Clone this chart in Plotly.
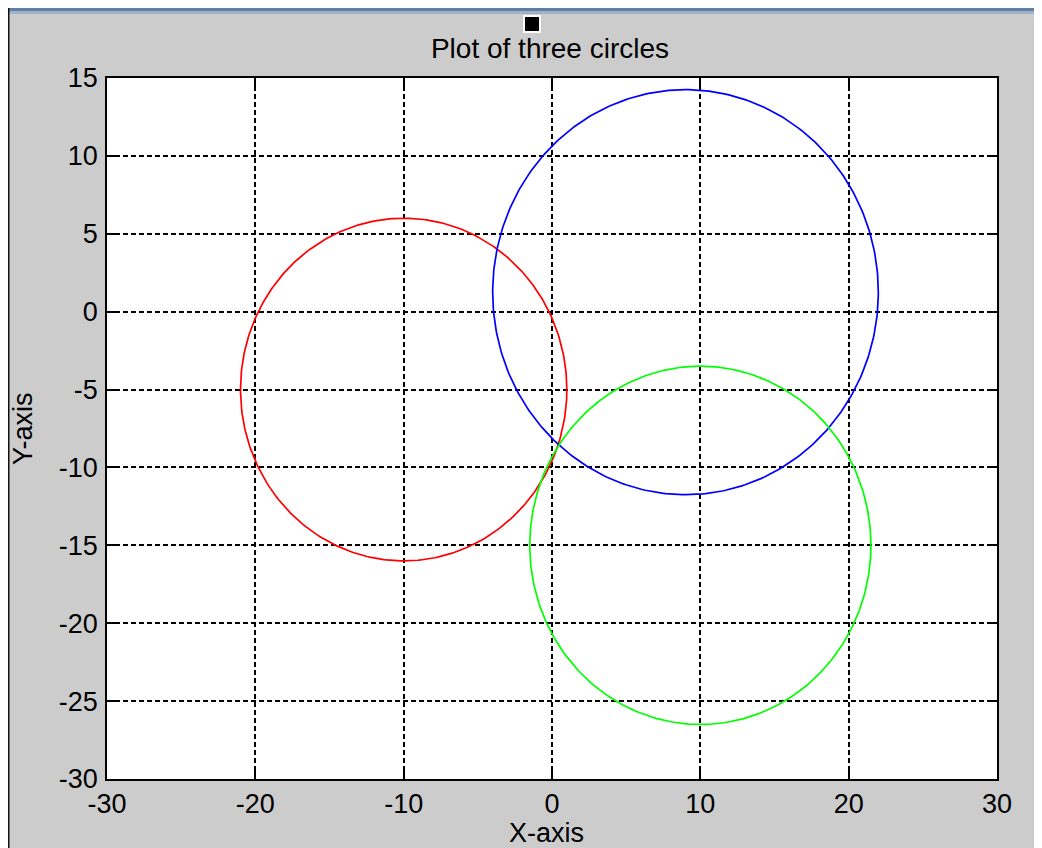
import numpy as np
import plotly.graph_objects as go

# Data: three circles (centre x, centre y, radius)
names = ["red circle", "blue circle", "green circle"]
center_x = [-10.0, 9.0, 10.0]
center_y = [-5.0, 1.25, -15.0]
radii = [11.0, 13.0, 11.5]
colors = ["#ff0000", "#0000ff", "#00ff00"]

x_ticks = [-30, -20, -10, 0, 10, 20, 30]
y_ticks = [15, 10, 5, 0, -5, -10, -15, -20, -25, -30]

# page is offset by the 8px body margin; figure coordinates below
OFF = 8
W, H = 1042 - OFF, 848 - OFF
L, R, T, B = 107 - OFF, 997 - OFF, 78 - OFF, 779 - OFF  # plot area in figure pixels

theta = np.linspace(0, 2 * np.pi, 361)

fig = go.Figure()
for n, cx, cy, r, c in zip(names, center_x, center_y, radii, colors):
    fig.add_trace(go.Scatter(
        x=cx + r * np.cos(theta), y=cy + r * np.sin(theta),
        mode="lines", name=n, line=dict(color=c, width=1.7),
        showlegend=False, hoverinfo="skip"))

FONT = "Liberation Sans, Arial, Helvetica, sans-serif"
FS = 27


def px_x(px):
    return (px - OFF - L) / (R - L)


def px_y(py):
    return (B - (py - OFF)) / (B - T)


shapes = [
    # window chrome: top bar and left border
    dict(type="rect", xref="paper", yref="paper", x0=px_x(0), x1=px_x(1042), y0=px_y(8), y1=px_y(11),
         fillcolor="#5f7fa3", line_width=0, layer="below"),
    dict(type="rect", xref="paper", yref="paper", x0=px_x(0), x1=px_x(1042), y0=px_y(11), y1=px_y(14),
         fillcolor="#9fb2c8", line_width=0, layer="below"),
    dict(type="rect", xref="paper", yref="paper", x0=px_x(8), x1=px_x(9.5), y0=px_y(8), y1=px_y(848),
         fillcolor="#101010", line_width=0, layer="below"),
    # small black square above the title
    dict(type="rect", xref="paper", yref="paper", x0=px_x(523), x1=px_x(541), y0=px_y(15), y1=px_y(33),
         fillcolor="white", line_width=0, layer="below"),
    dict(type="rect", xref="paper", yref="paper", x0=px_x(525), x1=px_x(539), y0=px_y(17), y1=px_y(31),
         fillcolor="black", line_width=0, layer="below"),
]

annotations = [
    dict(text="X-axis", xref="paper", yref="paper", x=px_x(546), y=px_y(833),
         xanchor="center", yanchor="middle", showarrow=False, font=dict(size=FS, color="black")),
    dict(text="Y-axis", xref="paper", yref="paper", x=px_x(23), y=px_y(429),
         xanchor="center", yanchor="middle", textangle=-90, showarrow=False,
         font=dict(size=FS, color="black")),
]

fig.update_layout(
    width=W, height=H,
    margin=dict(l=L, r=W - R, t=T, b=H - B, pad=0),
    paper_bgcolor="#cccccc",
    plot_bgcolor="white",
    font=dict(family=FONT, size=FS, color="black"),
    title=dict(text="Plot of three circles", x=(550 - OFF) / W, xanchor="center",
               y=1 - (48 - OFF) / H, yanchor="middle", font=dict(size=28, color="black")),
    shapes=shapes,
    annotations=annotations,
    showlegend=False,
)

axis_common = dict(
    showline=True, linecolor="black", linewidth=1.8, mirror="ticks",
    ticks="inside", ticklen=9, tickwidth=1.5, tickcolor="black",
    showgrid=True, gridcolor="black", gridwidth=1.6, griddash="5px,3px",
    zeroline=False, tickfont=dict(size=FS, color="black"),
)

fig.update_xaxes(range=[-30, 30], tickvals=x_ticks, ticktext=[str(v) for v in x_ticks],
                 **axis_common)
fig.update_yaxes(range=[-30, 15], tickvals=y_ticks, ticktext=[str(v) for v in y_ticks],
                 ticklabelstandoff=2, **axis_common)

fig.write_html("out.html")
